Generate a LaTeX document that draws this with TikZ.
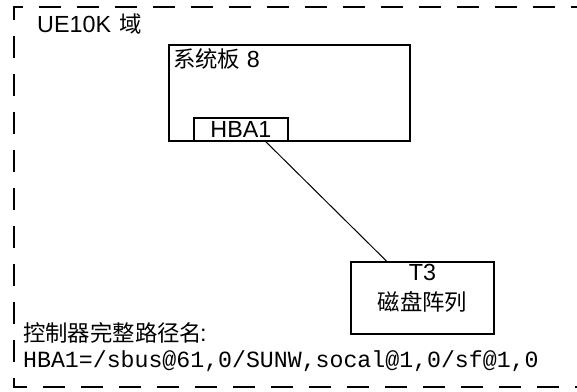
\documentclass[tikz,border=0pt]{standalone}
\usepackage{fontspec}
\setmainfont{Liberation Sans}
\setmonofont{Liberation Mono}
\newfontfamily\cjk[Scale=0.96]{Noto Sans CJK SC}
\newcommand{\zh}[1]{{\cjk #1}}
\usepackage{tikz}
\usetikzlibrary{calc,positioning}

\begin{document}
\begin{tikzpicture}[x=1bp,y=-1bp,
  box/.style={draw,line width=1.8bp,rectangle,inner sep=0pt,anchor=north west},
  txt/.style={inner sep=0pt,font=\fontsize{23.4}{28}\selectfont},
  frame/.style={line width=2.2bp,dash pattern=on 22bp off 16bp,dash phase=16bp},
  wire/.style={line width=1bp}]
  \useasboundingbox (0,0) rectangle (577,391);
  \draw[frame] (577,7) -- (14,7) -- (14,387) -- (577,387);

  \node[txt,anchor=base west] (dom) at (37,32) {UE10K\hspace{8bp}\zh{域}};

  \node[box,minimum width=241bp,minimum height=96bp] (board) at (168,44) {};
  \node[txt,anchor=base west] (boardlbl) at (173,67) {\zh{系统板} 8};
  \node[box,txt,minimum width=94bp,minimum height=23bp,line width=1.8bp] (hba) at (193,117) {HBA1};

  \node[box,minimum width=143bp,minimum height=72bp] (t3) at (350,261) {};
  \node[txt,anchor=base] (t3name) at ($(t3.north)+(0,19)$) {T3};
  \node[txt] (t3kind) at ($(t3.north)+(0,41)$) {\zh{磁盘阵列}};

  \draw[wire] ([xshift=25bp]hba.south) -- ([xshift=-36bp]t3.north);

  \node[txt,anchor=west] (pathlbl) at (23,333) {\zh{控制器完整路径名}\hspace{-2bp}:};
  \node[txt,anchor=base west,font=\ttfamily\fontsize{23.3}{27}\selectfont] (pathname) at (23,367) {HBA1=/sbus@61,0/SUNW,socal@1,0/sf@1,0};
\end{tikzpicture}
\end{document}
